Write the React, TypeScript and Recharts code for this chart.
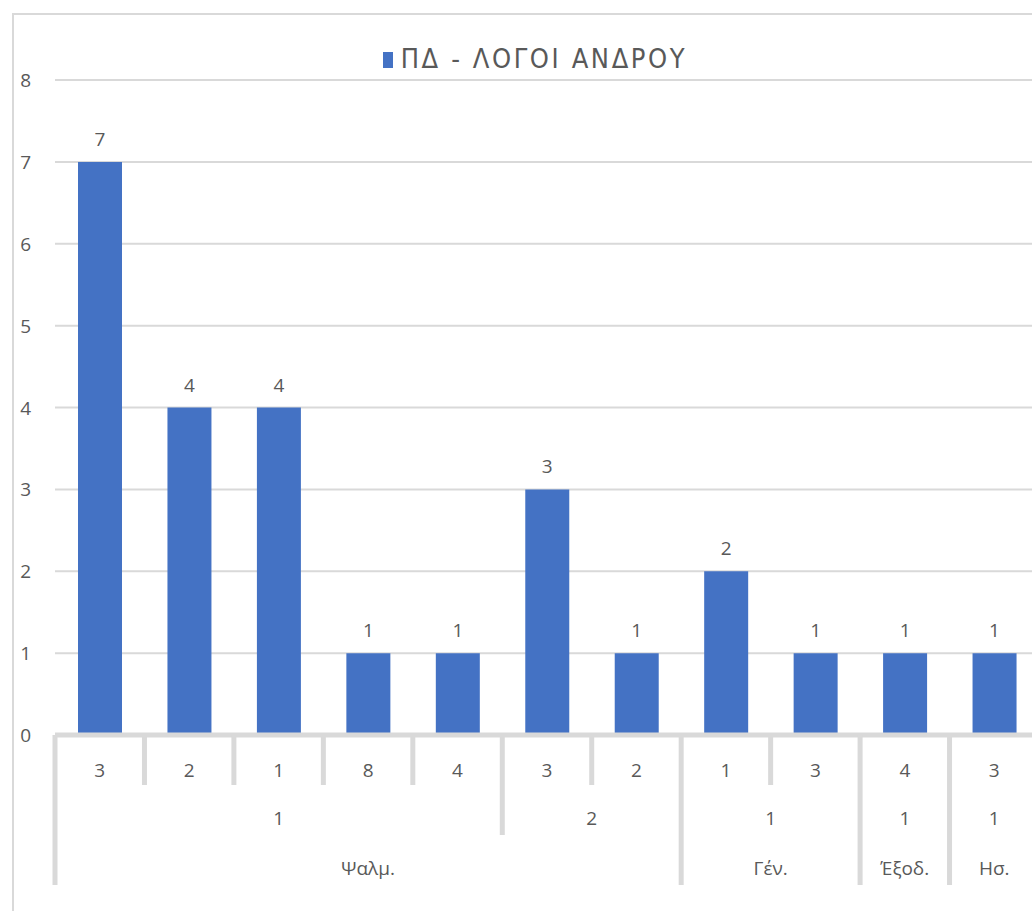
import React from 'react';
import { BarChart, Bar, XAxis, YAxis, CartesianGrid, LabelList } from 'recharts';

// bottom to top: verse, chapter, book
const verses = ['3', '2', '1', '8', '4', '3', '2', '1', '3', '4', '3'];
const chapters = ['1', '1', '1', '1', '1', '2', '2', '1', '1', '1', '1'];
const books = ['Ψαλμ.', 'Ψαλμ.', 'Ψαλμ.', 'Ψαλμ.', 'Ψαλμ.', 'Ψαλμ.', 'Ψαλμ.', 'Γέν.', 'Γέν.', 'Έξοδ.', 'Ησ.'];
const counts = [7, 4, 4, 1, 1, 3, 1, 2, 1, 1, 1];
const yTicks = [0, 1, 2, 3, 4, 5, 6, 7, 8];
const seriesName = 'ΠΔ - ΛΟΓΟΙ ΑΝΔΡΟΥ';

const data = counts.map((v, i) => ({ idx: i, value: v }));

const W = 1060;
const H = 911;
const BLUE = '#4472C4';
const LINE = '#d9d9d9';
const TXT = '#595959';
const FONT = '"Open Sans", "Noto Sans", sans-serif';

const chapterKey = (i: number) => books[i] + '|' + chapters[i];

function spanOf(keyFn: (i: number) => string, i: number) {
  let end = i;
  while (end + 1 < counts.length && keyFn(end + 1) === keyFn(i)) end++;
  return end - i + 1;
}

const MultiTick = (props: any) => {
  const { x, y, payload, index } = props;
  const i = payload?.index ?? index;
  const bw = payload?.offset ? payload.offset * 2 : (W - 55 - 21) / counts.length;
  const left = x - bw / 2;
  let depth = 50;
  if (i === 0 || books[i] !== books[i - 1]) depth = 150;
  else if (chapterKey(i) !== chapterKey(i - 1)) depth = 100;
  const out: React.ReactNode[] = [];
  out.push(<line key="b" x1={left} x2={left} y1={y} y2={y + depth} stroke={LINE} strokeWidth={5} />);
  if (i === counts.length - 1) {
    out.push(<line key="e" x1={x + bw / 2} x2={x + bw / 2} y1={y} y2={y + 150} stroke={LINE} strokeWidth={5} />);
  }
  out.push(
    <text key="v" x={x} y={y + 42} textAnchor="middle" fill={TXT} fontSize={19} fontFamily={FONT}>
      {verses[i]}
    </text>
  );
  if (i === 0 || chapterKey(i) !== chapterKey(i - 1)) {
    const n = spanOf(chapterKey, i);
    out.push(
      <text key="c" x={left + (n * bw) / 2} y={y + 90} textAnchor="middle" fill={TXT} fontSize={19} fontFamily={FONT}>
        {chapters[i]}
      </text>
    );
  }
  if (i === 0 || books[i] !== books[i - 1]) {
    const n = spanOf((k) => books[k], i);
    out.push(
      <text key="k" x={left + (n * bw) / 2} y={y + 140} textAnchor="middle" fill={TXT} fontSize={19} fontFamily={FONT}>
        {books[i]}
      </text>
    );
  }
  return <g>{out}</g>;
};

const YTick = (props: any) => {
  const { x, y, payload } = props;
  return (
    <text x={x - 24} y={y + 7} textAnchor="end" fill={TXT} fontSize={19} fontFamily={FONT}>
      {payload.value}
    </text>
  );
};

export default function App() {
  return (
    <div style={{ position: 'absolute', left: 0, top: 0, width: 1032, height: 911, overflow: 'hidden', background: '#fff' }}>
      <div
        style={{
          position: 'absolute',
          left: 12,
          top: 13,
          width: 1100,
          height: 1000,
          borderLeft: `2px solid ${LINE}`,
          borderTop: `2px solid ${LINE}`,
        }}
      />
      <div
        style={{
          position: 'absolute',
          top: 44,
          left: 12,
          width: 1046,
          textAlign: 'center',
          fontFamily: '"Liberation Sans Narrow", "DejaVu Sans Condensed", sans-serif',
          fontSize: 27,
          letterSpacing: '2.6px',
          color: TXT,
          lineHeight: '30px',
        }}
      >
        <span style={{ display: 'inline-block', width: 10, height: 16, background: BLUE, marginRight: 8 }} />
        {seriesName}
      </div>
      <div style={{ position: 'absolute', left: 0, top: 0 }}>
        <BarChart width={W} height={H} data={data} margin={{ top: 80, right: 21, bottom: 0, left: 0 }}>
          <CartesianGrid vertical={false} stroke={LINE} strokeWidth={2} />
          <YAxis
            domain={[0, 8]}
            ticks={yTicks}
            width={55}
            axisLine={false}
            tickLine={false}
            tickSize={0}
            tickMargin={0}
            tick={<YTick />}
            interval={0}
          />
          <XAxis
            dataKey="idx"
            height={176}
            interval={0}
            tickLine={false}
            tickSize={0}
            tickMargin={0}
            axisLine={{ stroke: LINE, strokeWidth: 5 }}
            tick={<MultiTick />}
          />
          <Bar dataKey="value" fill={BLUE} barSize={44} isAnimationActive={false}>
            <LabelList dataKey="value" position="top" offset={16} fill={TXT} fontSize={19} fontFamily={FONT} />
          </Bar>
        </BarChart>
      </div>
    </div>
  );
}
